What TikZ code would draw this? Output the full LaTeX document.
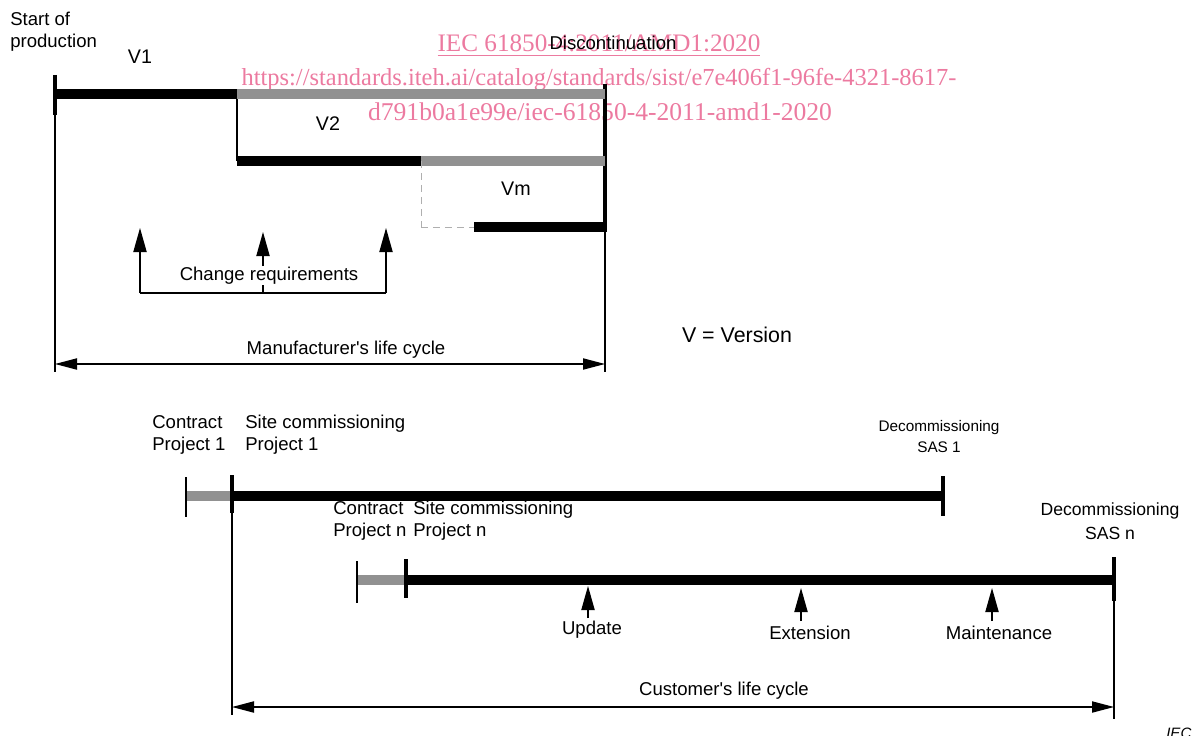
\documentclass[tikz,border=0pt]{standalone}
\usepackage{tkz-euclide}
\usepackage{tikz}
\usepackage{amsmath}
\usepackage{fontspec}
\setmainfont{Liberation Sans}
\newfontfamily\wmfont{Liberation Serif}
\usetikzlibrary{arrows.meta}
\definecolor{barGray}{RGB}{145,145,145}
\definecolor{dashGray}{RGB}{175,175,175}
\definecolor{wmPink}{RGB}{236,122,160}
\tikzset{
  thickbar/.style={line width=0.24cm,line cap=butt},
  endtick/.style={line width=2.4pt,line cap=butt},
  guide/.style={line width=0.9pt,line cap=butt},
  dashguide/.style={line width=0.7pt,line cap=butt,color=dashGray,dash pattern=on 5pt off 3.5pt},
  uparrow/.style={line width=0.9pt,line cap=butt,-{Triangle[length=0.6cm,width=0.33cm]}},
  spanarrow/.style={line width=0.9pt,line cap=butt,{Triangle[length=0.55cm,width=0.28cm]}-{Triangle[length=0.55cm,width=0.28cm]}},
  lbl/.style={font=\fontsize{13.2}{15.6}\selectfont,inner sep=0pt},
  wm/.style={text=wmPink,font=\wmfont\fontsize{17.9}{20}\selectfont,inner sep=0pt}
}

\begin{document}
\begin{tikzpicture}[x=0.025cm,y=-0.025cm]
    \useasboundingbox (0,0) rectangle (1194,735);
    % watermark
    \node[wm] (wm1) at (599,46) {\underline{IEC 61850-4:2011/AMD1:2020}};
    \node[wm,font=\wmfont\fontsize{17.4}{20}\selectfont] (wm2) at (599,80) {https://standards.iteh.ai/catalog/standards/sist/e7e406f1-96fe-4321-8617-};
    \node[wm,font=\wmfont\fontsize{18.2}{20}\selectfont] (wm3) at (600,112) {d791b0a1e99e/iec-61850-4-2011-amd1-2020};
    % manufacturer's versions
    \tkzDefPoints{55/75/A,55/115/B,55/372/C,55/94/D,237/94/E,605/94/F}
    \tkzDefPoints{237/161/G,421/161/H,605/161/I,421/227/J,474/227/K,605/227/L}
    \tkzDefPoints{605/84/M,605/232/N,605/372/O,55/364/P,605/364/Q}
    \tkzDrawSegments[endtick](A,B M,N)
    \tkzDrawSegments[guide](B,C N,O E,G)
    \tkzDrawSegments[thickbar](D,E G,H K,L)
    \tkzDrawSegments[thickbar,color=barGray](E,F H,I)
    \tkzDrawSegments[dashguide](H,J J,K)
    \tkzDrawSegments[spanarrow](P,Q)
    % change requirements
    \tkzDefPoints{140/228/R1,140/293/R2,263/232/S1,263/266/S2,263/285/S3,263/293/S4,386/228/T1,386/293/T2}
    \tkzDrawSegments[uparrow](R2,R1 S2,S1 T2,T1)
    \tkzDrawSegments[guide](R2,T2 S3,S4)
    % customer's projects
    \tkzDefPoints{186/477/U1,186/517/U2,186/496/U3,232/475/W1,232/513/W2,232/496/W3,232/715/W4}
    \tkzDefPoints{943/496/X1,943/476/X2,943/516/X3}
    \tkzDefPoints{357/561/Y1,357/603/Y2,357/580/Y3,406/559/Z1,406/598/Z2,406/580/Z3}
    \tkzDefPoints{1114/580/K1,1114/557/K2,1114/601/K3,1114/719/K4,232/707/L1,1114/707/L2}
    \tkzDrawSegments[thickbar,color=barGray](U3,W3 Y3,Z3)
    \tkzDrawSegments[thickbar](W3,X1 Z3,K1)
    \tkzDrawSegments[guide](U1,U2 Y1,Y2 W2,W4 K3,K4)
    \tkzDrawSegments[endtick](W1,W2 X2,X3 Z1,Z2 K2,K3)
    \tkzDrawSegments[spanarrow](L1,L2)
    % events
    \tkzDefPoints{588/618/E1,588/586/E2,801/621/F1,801/588/F2,992/621/G1,992/588/G2}
    \tkzDrawSegments[uparrow](E1,E2 F1,F2 G1,G2)
    % labels
    \node[lbl,anchor=west,align=left] (start) at (10,31.5) {Start of\\production};
    \node[lbl,font=\fontsize{14}{16}\selectfont] (v1) at (140,57) {V1};
    \node[lbl,font=\fontsize{14}{16}\selectfont] (v2) at (328,124) {V2};
    \node[lbl,font=\fontsize{14}{16}\selectfont] (vm) at (516,189) {Vm};
    \node[lbl] (disc) at (613,43) {Discontinuation};
    \node[lbl] (chg) at (269,276) {Change requirements};
    \node[lbl] (mlc) at (346,350) {Manufacturer\textquotesingle s life cycle};
    \node[lbl,font=\fontsize{15.2}{18}\selectfont] (ver) at (737,335) {V = Version};
    \node[lbl,anchor=west,align=left] (cp1) at (152,434.5) {Contract\\Project 1};
    \node[lbl,anchor=west,align=left] (sc1) at (245,434.5) {Site commissioning\\Project 1};
    \node[lbl,align=center,font=\fontsize{10.9}{15}\selectfont] (ds1) at (939,436.5) {Decommissioning\\SAS 1};
    \node[lbl,anchor=west,align=left] (cpn) at (333,521) {Contract\\Project n};
    \node[lbl,anchor=west,align=left] (scn) at (413,521) {Site commissioning\\Project n};
    \node[lbl,align=center,font=\fontsize{12.5}{17}\selectfont] (dsn) at (1110,521) {Decommissioning\\SAS n};
    \node[lbl] (upd) at (592,630) {Update};
    \node[lbl] (ext) at (810,633) {Extension};
    \node[lbl] (mnt) at (999,633) {Maintenance};
    \node[lbl] (clc) at (724,691) {Customer\textquotesingle s life cycle};
    \node[lbl,anchor=west,font=\itshape\fontsize{10.7}{12}\selectfont] (iec) at (1166,733) {IEC};
\end{tikzpicture}
\end{document}
